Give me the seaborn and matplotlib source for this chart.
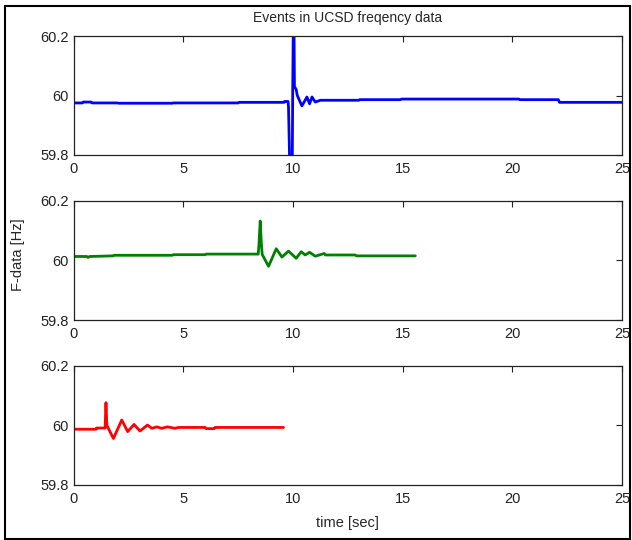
import matplotlib
matplotlib.use("Agg")
import matplotlib.pyplot as plt
import matplotlib.patches as mpatches
import seaborn as sns

# values (time [sec], frequency [Hz])
t_blue = [0, 0.4, 0.45, 0.8, 0.85, 2.0, 2.05, 4.5, 4.55, 7.5, 7.55, 9.6, 9.62, 9.78, 9.8, 9.86, 9.97,
          9.99, 10.02, 10.05, 10.07, 10.15, 10.2, 10.41, 10.64, 10.76, 10.87, 11.02, 11.25, 13.0,
          13.05, 14.9, 14.95, 20.3, 20.35, 22.1, 22.15, 25.0]
f_blue = [59.975, 59.975, 59.978, 59.978, 59.975, 59.975, 59.974, 59.974, 59.975, 59.975, 59.977,
          59.977, 59.980, 59.980, 59.960, 59.75, 59.75, 60.0, 60.25, 60.25, 60.03, 60.02, 60.0,
          59.965, 59.995, 59.972, 59.995, 59.978, 59.984, 59.984, 59.986, 59.986, 59.988, 59.988,
          59.986, 59.986, 59.977, 59.977]

t_green = [0, 0.6, 0.66, 0.75, 1.8, 1.85, 4.5, 4.55, 6.0, 6.05, 8.42, 8.45, 8.51, 8.56, 8.6,
           8.89, 9.24, 9.5, 9.8, 10.15, 10.38, 10.56, 10.76, 11.02, 11.43, 11.48, 12.84, 12.9, 15.58]
f_green = [60.013, 60.013, 60.010, 60.013, 60.015, 60.017, 60.017, 60.019, 60.019, 60.021,
           60.021, 60.05, 60.132, 60.06, 60.02, 59.98, 60.039, 60.011, 60.031, 60.007, 60.029,
           60.018, 60.027, 60.014, 60.023, 60.018, 60.018, 60.015, 60.015]

t_red = [0, 1.03, 1.05, 1.44, 1.48, 1.52, 1.82, 2.2, 2.47, 2.76, 3.03, 3.37, 3.57, 3.8, 4.02,
         4.28, 4.63, 4.78, 6.0, 6.05, 6.41, 6.45, 9.57]
f_red = [59.987, 59.987, 59.991, 59.991, 60.076, 60.0, 59.956, 60.018, 59.979, 60.003, 59.981,
         60.001, 59.99, 59.995, 59.99, 59.995, 59.99, 59.993, 59.993, 59.989, 59.989, 59.993, 59.993]

series = [(t_blue, f_blue, "#0000ff"), (t_green, f_green, "#008000"), (t_red, f_red, "#ff0000")]
x_ticks = [0, 5, 10, 15, 20, 25]
y_ticks = [59.8, 60.0, 60.2]
y_labels = ["59.8", "60", "60.2"]

sns.set_style("white")
plt.rcParams["font.family"] = ["Liberation Sans", "DejaVu Sans"]
plt.rcParams.update({
    "xtick.direction": "in", "ytick.direction": "in",
    "xtick.top": True, "ytick.right": True,
    "xtick.major.size": 4, "ytick.major.size": 4,
    "xtick.major.width": 0.8, "ytick.major.width": 0.8,
    "axes.edgecolor": "#222222", "axes.linewidth": 0.9,
})

fig = plt.figure(figsize=(6.32, 5.4), dpi=100)
fig.patch.set_facecolor("white")

left, width = 73.5 / 632, (622 - 73.5) / 632
boxes = [(36, 155), (200.7, 320), (365.7, 485)]
axes = []
for (top, bottom), (t, f, c) in zip(boxes, series):
    ax = fig.add_axes([left, 1 - bottom / 540, width, (bottom - top) / 540])
    sns.lineplot(x=t, y=f, ax=ax, color=c, linewidth=2.0, sort=False)
    ax.set_xlim(0, 25)
    ax.set_ylim(59.8, 60.2)
    ax.set_xticks(x_ticks)
    ax.set_yticks(y_ticks)
    ax.set_yticklabels(y_labels)
    ax.tick_params(labelsize=10.5, colors="#222222")
    ax.tick_params(axis="x", pad=5)
    for s in ax.spines.values():
        s.set_visible(True)
    axes.append(ax)

axes[0].set_title("Events in UCSD freqency data", fontsize=10, pad=10)
axes[2].set_xlabel("time [sec]", fontsize=10.5, labelpad=7)
fig.text(18 / 632, 1 - 255 / 540, "F-data [Hz]", rotation=90, fontsize=10.5,
         ha="center", va="center")

# outer frame of the screenshot
fig.patches.append(mpatches.Rectangle((5 / 632, 1 - 539 / 540), 625 / 632, 533 / 540,
                                      transform=fig.transFigure, fill=False,
                                      edgecolor="black", linewidth=1.5))

fig.savefig("out.png", dpi=100)
